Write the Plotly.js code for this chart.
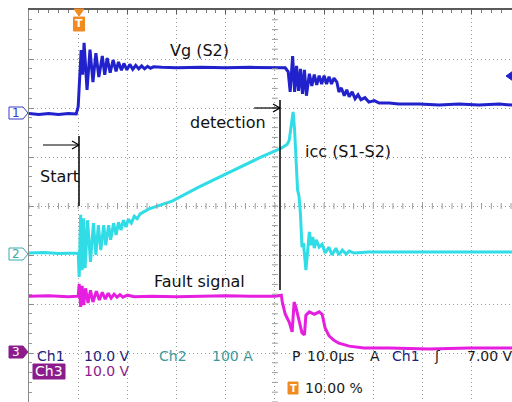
<!DOCTYPE html>
<html>
<head>
<meta charset="utf-8">
<script src="https://cdn.plot.ly/plotly-3.0.1.min.js"></script>
<style>html,body{margin:0;padding:0;background:#fff;}#chart{width:512px;height:402px;}</style>
</head>
<body>
<div id="chart"></div>
<script>
// ---- Data (time in µs, Vg in V, icc in A, fault signal in V) ----
const vgTime = [-10,-8,-6,-4,-2,-0.4,0,0.3,0.6,0.9,1.2,1.8,2.4,3.0,3.6,4.2,4.9,5.4,5.9,6.5,7.1,7.7,8.2,8.8,9.3,9.9,10.5,11.1,11.7,12.3,12.9,13.5,14.1,14.7,15.3,17,20,25,30,35,40,42.1,42.7,43.1,43.6,44.0,44.4,44.8,45.2,45.6,46.0,46.4,47.0,47.5,48.0,48.5,49.0,49.5,50.0,50.5,51.0,51.5,52.0,52.6,53.0,53.5,54.1,54.6,55.1,55.7,56.3,56.9,57.5,58.3,59.1,60.2,61.2,63.2,65.2,69.3,73.4,77.4,81.5,85.6,88.2];
const vgVolts = [0.1,-0.1,0.1,-0.1,0.1,0.0,1.5,9.0,13.0,8.0,14.5,4.9,13.1,6.5,12.4,7.5,11.8,8.0,11.4,8.4,11.0,8.7,10.6,8.9,10.3,9.0,10.1,9.1,9.9,9.2,9.8,9.2,9.7,9.3,9.6,9.5,9.4,9.5,9.4,9.5,9.4,9.4,8.6,4.5,11.8,4.5,9.8,4.7,9.2,4.1,9.0,3.7,8.2,5.7,8.0,5.9,7.8,6.1,7.8,6.1,7.6,6.1,7.3,6.5,4.5,5.3,3.7,4.9,3.5,4.5,3.1,3.9,2.9,3.3,2.4,2.7,2.2,2.2,2.0,2.0,1.8,2.0,1.8,2.0,1.8];

const iccTime = [-10,-7,-4,-1,-0.2,0.0,0.2,0.5,0.8,1.1,1.4,1.9,2.5,3.1,3.6,4.1,4.6,5.2,5.6,6.2,6.6,7.2,7.7,8.2,8.7,9.2,9.7,10.2,10.8,11.4,12.0,12.6,14.4,19.1,24.6,30.7,36.8,41.3,42.5,42.9,43.4,43.7,44.0,44.3,44.6,44.9,45.2,45.5,45.8,46.3,47.0,47.4,47.7,48.0,48.4,49.0,49.6,50.2,51.0,51.6,52.4,53.0,53.7,54.5,55.1,56.1,59.1,65.2,75.4,88.2];
const iccAmps = [0,1,-1,0,0,0,-49,78,-35,71,-31,67,-18,61,-4,57,6,57,16,57,27,61,37,63,47,67,53,69,61,75,70,80,90,106,135,165,194,214,222,230,271,288,251,184,129,116,78,12,20,-35,43,16,33,10,27,12,18,0,12,-4,10,-4,6,-2,4,0,2,2,2,2];

const faultTime = [-10,-6,-2,-0.3,0,0.2,0.5,0.8,1.1,1.5,2.0,2.5,3.0,3.7,4.3,4.9,5.5,6.1,6.7,7.3,7.9,8.5,9.1,10.0,11.4,15,20,25,30,35,40,41.3,41.5,42.1,42.9,43.5,43.9,44.3,44.9,45.5,46.0,46.3,47.0,48.0,49.0,49.6,50.2,51.0,52.0,53.0,55.1,58.1,63.2,71.3,79.5,88.2];
const faultVolts = [10.8,10.9,10.7,10.8,10.8,13.3,8.6,12.9,9.0,12.4,9.4,12.0,9.6,11.8,10.0,11.6,10.2,11.4,10.4,11.2,10.6,11.1,10.6,11.0,10.7,10.8,10.7,10.8,10.9,10.8,10.8,11.0,9.6,7.1,5.5,3.5,9.6,8.4,5.9,3.3,2.9,6.9,7.6,7.1,7.6,7.1,4.3,2.7,1.8,1.2,0.6,0.2,0.2,0.0,0.2,0.2];

// channel settings (scale per division, ground offset in divisions)
const ch1Scale = 10, ch1Offset = 1.88;
const ch2Scale = 100, ch2Offset = -0.96;
const ch3Scale = 10, ch3Offset = -2.92;

// ---- geometry helpers for decorations ----
const W = 512, H = 402, L = 29, T = 10, PW = 483, PH = 392;
const PX = px => (px - L) / PW;
const PY = py => (H - py) / PH;

const toDiv = (arr, s, o) => arr.map(v => v / s + o);

const traces = [
  {x: vgTime, y: toDiv(vgVolts, ch1Scale, ch1Offset), mode: 'lines', line: {color: '#2222cc', width: 3}, hoverinfo: 'skip'},
  {x: iccTime, y: toDiv(iccAmps, ch2Scale, ch2Offset), mode: 'lines', line: {color: '#30dde6', width: 3}, hoverinfo: 'skip'},
  {x: faultTime, y: toDiv(faultVolts, ch3Scale, ch3Offset), mode: 'lines', line: {color: '#e61ee0', width: 3}, hoverinfo: 'skip'}
];

const shapes = [];
// center crosshair tick marks
for (let k = -20; k <= 20; k++) {
  shapes.push({type: 'line', xref: 'x', yref: 'y', x0: 39.4, x1: 40.6, y0: k * 0.2, y1: k * 0.2, line: {color: '#9a9a9a', width: 1}});
}
for (let k = -5; k <= 44; k++) {
  shapes.push({type: 'line', xref: 'x', yref: 'y', x0: k * 2, x1: k * 2, y0: -0.06, y1: 0.06, line: {color: '#9a9a9a', width: 1}});
}
const seg = (x0, y0, x1, y1, c, w) => ({type: 'line', xref: 'paper', yref: 'paper', x0: PX(x0), y0: PY(y0), x1: PX(x1), y1: PY(y1), line: {color: c, width: w}});
const poly = (pts, fill, lc) => ({type: 'path', xref: 'paper', yref: 'paper',
  path: 'M ' + pts.map(p => PX(p[0]) + ',' + PY(p[1])).join(' L ') + ' Z',
  fillcolor: fill, line: {color: lc, width: 1}});
// start marker
shapes.push(seg(79, 136, 79, 206, '#000', 1.5));
shapes.push(seg(43, 145, 79, 145, '#000', 1.2));
shapes.push(seg(79, 145, 72, 141, '#000', 1.2));
shapes.push(seg(79, 145, 72, 149, '#000', 1.2));
// detection marker
shapes.push(seg(280, 100, 280, 290, '#000', 1.5));
shapes.push(seg(254, 108, 280, 108, '#000', 1.2));
shapes.push(seg(280, 108, 273, 104, '#000', 1.2));
shapes.push(seg(280, 108, 273, 112, '#000', 1.2));
// channel tags
shapes.push(poly([[9,107],[23,107],[28,113],[23,119],[9,119]], '#ffffff', '#3a3ac8'));
shapes.push(poly([[9,248],[23,248],[28,254],[23,260],[9,260]], '#ffffff', '#3aa8a8'));
shapes.push(poly([[9,346],[23,346],[28,352],[23,358],[9,358]], '#8c1c8c', '#8c1c8c'));
// trigger marker top
shapes.push(poly([[74,9],[84,9],[79,16]], '#f28a22', '#f28a22'));
shapes.push(poly([[73.5,17],[84.5,17],[84.5,31],[73.5,31]], '#f28a22', '#f28a22'));
// trigger level marker right
shapes.push(poly([[513,71],[506,76],[513,81]], '#2222cc', '#2222cc'));
// Ch3 label box
shapes.push(poly([[33,364],[65,364],[65,379],[33,379]], '#8c1c8c', '#8c1c8c'));
// bottom T icon
shapes.push(poly([[288,382],[298,382],[298,394],[288,394]], '#f28a22', '#f28a22'));

const FONT = 'DejaVu Sans, Verdana, sans-serif';
const txt = (s, x, y, size, color, anchor) => ({text: s, xref: 'paper', yref: 'paper', x: PX(x), y: PY(y),
  xanchor: anchor || 'left', yanchor: 'middle', showarrow: false, font: {family: FONT, size: size, color: color}});

const annotations = [
  txt('Vg (S2)', 168, 51, 16, '#111'),
  txt('detection', 188, 122, 16, '#111'),
  txt('icc (S1-S2)', 303, 151, 16, '#111'),
  txt('Start', 38, 176, 16, '#111'),
  txt('Fault signal', 152, 281, 16, '#111'),
  txt('1', 16, 113, 12, '#3a3ac8', 'center'),
  txt('2', 16, 254, 12, '#3aa8a8', 'center'),
  txt('3', 16, 352, 12, '#ffffff', 'center'),
  txt('<b>T</b>', 79, 24, 11, '#ffffff', 'center'),
  txt('<b>T</b>', 293, 388, 10, '#ffffff', 'center'),
  txt('Ch1', 35, 356, 14, '#22227a'),
  txt('10.0 V', 82, 356, 14, '#22227a'),
  txt('Ch2', 157, 356, 14, '#3a9a9a'),
  txt('100 A', 210, 356, 14, '#3a9a9a'),
  txt('P', 290, 356, 14, '#1a1a1a'),
  txt('10.0µs', 305, 356, 14, '#1a1a1a'),
  txt('A', 368, 356, 14, '#1a1a1a'),
  txt('Ch1', 390, 356, 14, '#22227a'),
  txt('ʃ', 432, 356, 14, '#1a1a1a'),
  txt('7.00 V', 465, 356, 14, '#1a1a1a'),
  txt('Ch3', 49, 371, 14, '#ffffff', 'center'),
  txt('10.0 V', 82, 371, 14, '#8c1c8c'),
  txt('10.00 %', 303, 388, 14, '#1a1a1a')
];

const layout = {
  width: W, height: H,
  margin: {l: L, r: 0, t: T, b: 0, pad: 0},
  paper_bgcolor: '#ffffff', plot_bgcolor: '#ffffff',
  showlegend: false,
  xaxis: {range: [-10, 88.2], side: 'top', dtick: 10, tick0: 0, showgrid: true, gridcolor: '#9a9a9a', griddash: '1px,3px', gridwidth: 1,
    zeroline: false, showline: true, linecolor: '#5a5a5a', linewidth: 2, ticks: 'inside', ticklen: 4, tickcolor: '#5a5a5a', showticklabels: false,
    minor: {dtick: 2, ticks: 'inside', ticklen: 3, tickcolor: '#7a7a7a', showgrid: false}, fixedrange: true},
  yaxis: {range: [-4, 4], dtick: 1, tick0: 0, showgrid: true, gridcolor: '#9a9a9a', griddash: '1px,3px', gridwidth: 1,
    zeroline: false, showline: true, linecolor: '#8a8a8a', linewidth: 1.5, ticks: 'inside', ticklen: 4, tickcolor: '#8a8a8a', showticklabels: false,
    minor: {dtick: 0.2, ticks: 'inside', ticklen: 3, tickcolor: '#9a9a9a', showgrid: false}, fixedrange: true},
  shapes: shapes,
  annotations: annotations
};

Plotly.newPlot('chart', traces, layout, {displayModeBar: false, staticPlot: true});
</script>
</body>
</html>
